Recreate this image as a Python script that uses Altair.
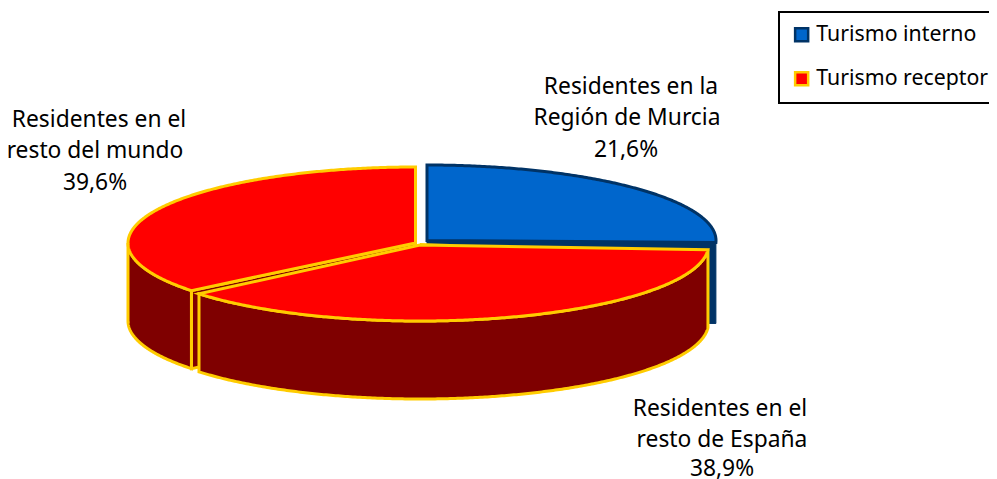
import math
import altair as alt
import pandas as pd

# ---- values ----
series = ["Turismo interno", "Turismo receptor"]
slice_names = ["Residentes en la Región de Murcia", "Residentes en el resto de España", "Residentes en el resto del mundo"]
slice_series = ["Turismo interno", "Turismo receptor", "Turismo receptor"]
shares = [21.6, 38.9, 39.6]
label_lines = ["Residentes en la", "Región de Murcia", "21,6%",
               "Residentes en el", "resto de España", "38,9%",
               "Residentes en el", "resto del mundo", "39,6%"]
label_x = [631, 627, 626, 720, 722, 722, 99, 95, 95]
label_y = [86.5, 118, 149.5, 408.5, 439.5, 469, 119.5, 151, 182.5]

# ---- drawing styles ----
TOP = {"Turismo interno": "#0066CC", "Turismo receptor": "#FF0000"}
EDGE = {"Turismo interno": "#003366", "Turismo receptor": "#FFCC00"}
SIDE = {"Turismo interno": "#003366", "Turismo receptor": "#7F0000"}
W, H = 981, 471
FONT = "Noto Sans"
FS = 22.8

x_s = alt.Scale(domain=[8, 8 + W], range=[0, W])
y_s = alt.Scale(domain=[8, 8 + H], range=[0, H])
color_fill = alt.Scale(domain=series, range=[TOP[s] for s in series])
color_edge = alt.Scale(domain=series, range=[EDGE[s] for s in series])

# ellipse geometry of the tilted pie (centre, radii, depth, start/end angle in degrees)
geo = [
    dict(cx=427, cy=240.5, rx=289, ry=75.5, depth=81, a0=90, a1=-1.5),
    dict(cx=420, cy=245, rx=288.5, ry=76, depth=78, a0=-3.5, a1=-140),
    dict(cx=415.5, cy=243, rx=287.5, ry=76, depth=78, a0=218.8, a1=90),
]


def pt(g, a, dz=0):
    r = math.radians(a)
    return (g["cx"] + g["rx"] * math.cos(r), g["cy"] - g["ry"] * math.sin(r) + dz)


def arc(g, a0, a1, dz=0):
    n = max(2, int(abs(a1 - a0) * 2))
    return [pt(g, a0 + (a1 - a0) * i / n, dz) for i in range(n + 1)]


def layer(points, fill, stroke, sw=3, series_name=None):
    points = list(points) + [points[0], points[1]]
    df = pd.DataFrame({"x": [p[0] for p in points], "y": [p[1] for p in points],
                       "o": list(range(len(points)))})
    enc = dict(x=alt.X("x:Q", scale=x_s, axis=None), y=alt.Y("y:Q", scale=y_s, axis=None),
               order=alt.Order("o:Q"))
    if series_name:
        df["Serie"] = series_name
        enc["fill"] = alt.Fill("Serie:N", scale=color_fill, title=None)
        enc["stroke"] = alt.Stroke("Serie:N", scale=color_edge, title=None)
        mark = alt.Chart(df).mark_line(strokeWidth=sw, strokeJoin="miter", clip=False)
    else:
        mark = alt.Chart(df).mark_line(fill=fill, stroke=stroke, strokeWidth=sw, strokeJoin="miter", clip=False)
    return mark.encode(**enc)


layers = []
# blue slice
g = geo[0]; s = slice_series[0]
apex = (g["cx"], g["cy"])
end = pt(g, g["a1"])
layers.append(layer([apex, end, (end[0], end[1] + g["depth"]), (apex[0], apex[1] + g["depth"])], SIDE[s], EDGE[s], 1))
layers.append(layer([apex] + arc(g, g["a0"], g["a1"]), None, None, 3, s))
# left slice
g = geo[2]; s = slice_series[2]
apex = (g["cx"], g["cy"])
end = pt(g, g["a0"])
layers.append(layer([apex, end, (end[0], end[1] + g["depth"]), (apex[0], apex[1] + g["depth"])], SIDE[s], EDGE[s]))
layers.append(layer(arc(g, 180, g["a0"]) + arc(g, g["a0"], 180, g["depth"]), SIDE[s], EDGE[s]))
layers.append(layer([apex] + arc(g, g["a0"], g["a1"]), None, None, 3, s))
# front slice
g = geo[1]; s = slice_series[1]
apex = (g["cx"], g["cy"])
layers.append(layer(arc(g, g["a0"], g["a1"]) + arc(g, g["a1"], g["a0"], g["depth"]), SIDE[s], EDGE[s]))
layers.append(layer([apex] + arc(g, g["a0"], g["a1"]), None, None, 3, s))

text_df = pd.DataFrame({"x": label_x, "y": label_y, "t": label_lines})
labels = alt.Chart(text_df).mark_text(font=FONT, fontSize=FS, color="black", align="center", baseline="middle").encode(
    x=alt.X("x:Q", scale=x_s, axis=None), y=alt.Y("y:Q", scale=y_s, axis=None), text="t:N")

chart = alt.layer(*layers, labels).properties(
    width=W, height=H, padding=0,
    autosize=alt.AutoSizeParams(type="none", contains="content"),
).configure_view(stroke=None).configure_legend(
    orient="none", legendX=771, legendY=4, symbolType="square", symbolSize=170,
    symbolStrokeWidth=2.5, symbolOffset=0, labelFont=FONT, labelFontSize=21.3, labelColor="black", labelLimit=400,
    strokeColor="black", fillColor="white", padding=12, rowPadding=20, labelOffset=4,
    cornerRadius=0, strokeWidth=2,
)
chart.save("out.html", embed_options={"renderer": "svg", "actions": False})
